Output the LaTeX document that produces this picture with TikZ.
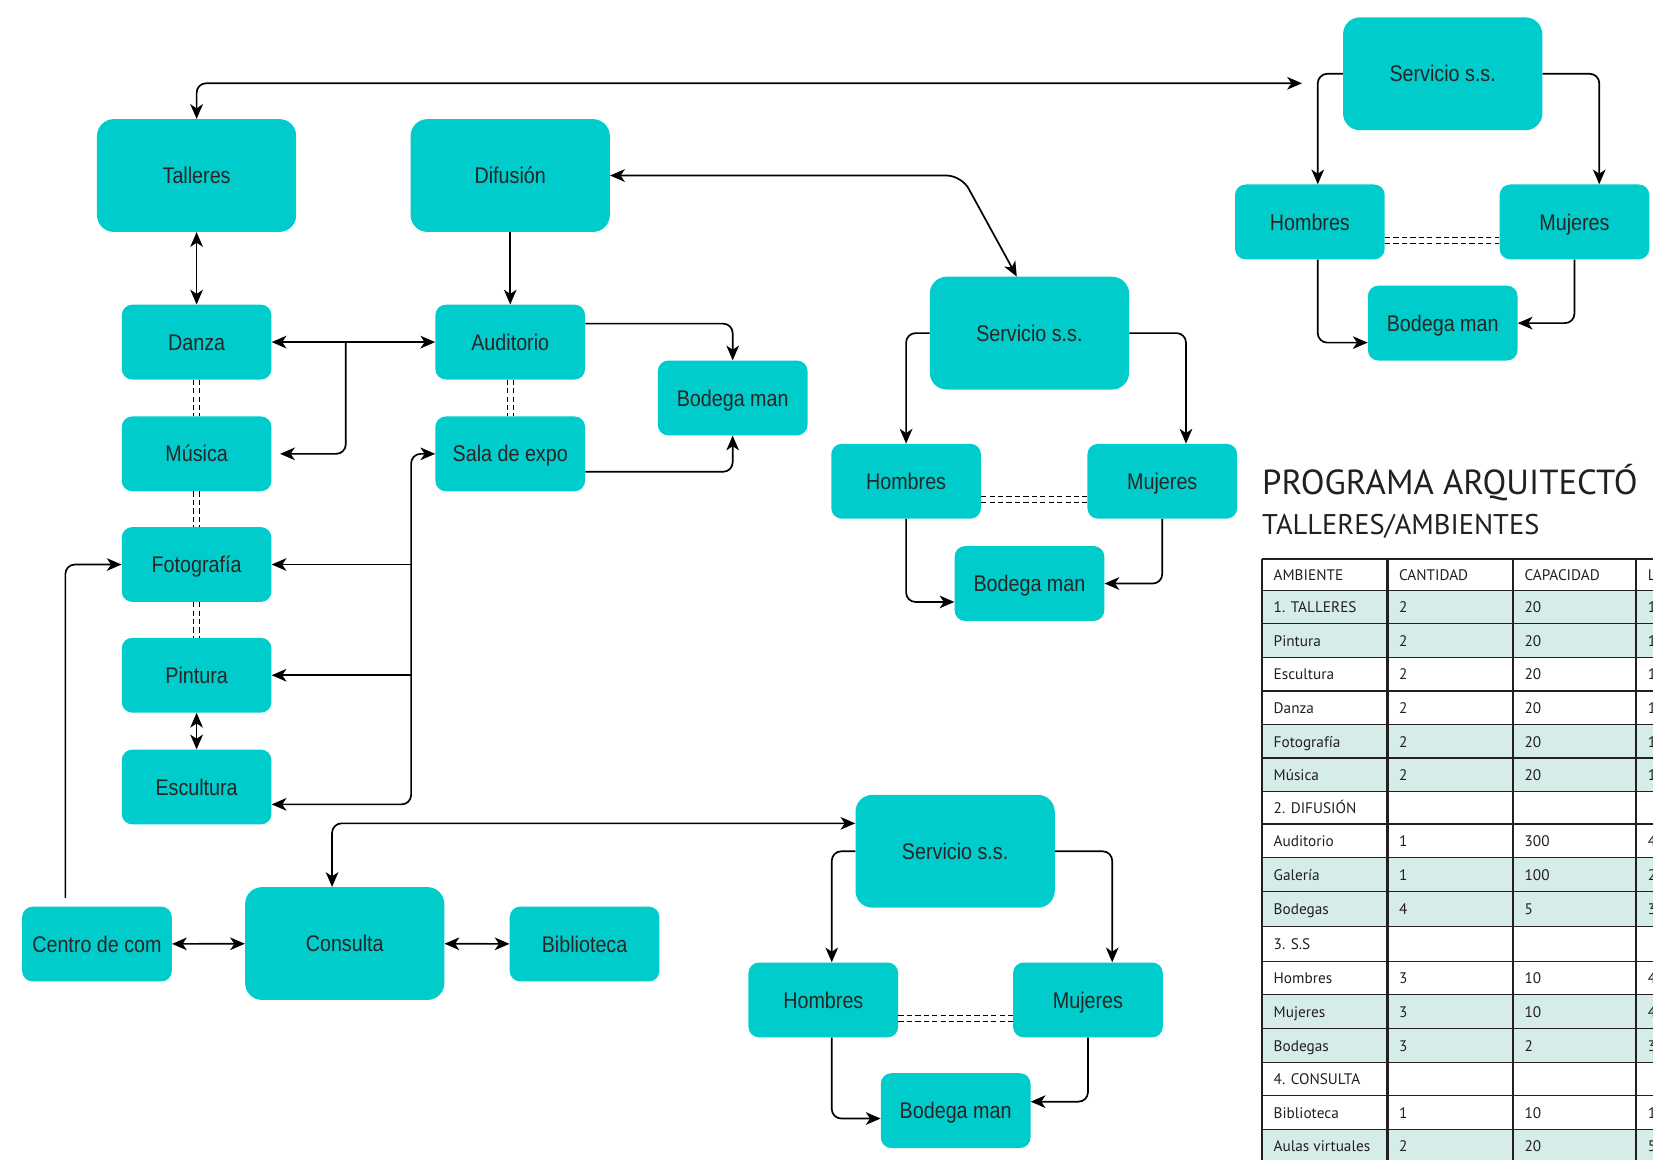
\documentclass[tikz,border=0pt]{standalone}
\usepackage{fontspec}
\setmainfont{Liberation Sans}[FakeStretch=0.87]
\newfontfamily\tabfont{PT Sans}
\usepackage{tikz}
\usetikzlibrary{positioning,arrows.meta}
\definecolor{turquesa}{RGB}{0,204,204}
\definecolor{menta}{RGB}{214,236,232}
\definecolor{borde}{RGB}{35,31,32}

\begin{document}
\begin{tikzpicture}[x=1pt,y=-1pt,
  >={Stealth[length=14pt,width=12pt,inset=4pt]},
  caja/.style={rectangle,fill=turquesa,rounded corners=10pt,minimum width=142pt,minimum height=71pt,
    inner sep=0pt,text height=18pt,text depth=2.6pt,text=black!85,font=\fontsize{21.5}{24}\selectfont},
  cajagrande/.style={caja,minimum width=189pt,minimum height=107pt,rounded corners=16pt},
  flecha/.style={draw,line width=1.6pt,rounded corners=9pt},
  enlace/.style={draw,line width=1.1pt,double,double distance=4.5pt,dash pattern=on 5pt off 3pt},
  celda/.style={anchor=base west,inner sep=0pt,font=\tabfont\fontsize{14.5}{16}\selectfont,text=borde},
  tabla/.style={draw=borde,line width=2.2pt}]
  \useasboundingbox (0,0) rectangle (1568,1100);

  \node[cajagrande] (tal) at (186.5,166.5) {Talleres};
  \node[cajagrande] (dif) at (484,166.5) {Difusión};
  \node[caja] (dan) at (186.5,324.5) {Danza};
  \node[caja] (aud) at (484,324.5) {Auditorio};
  \node[caja] (bod) at (695,377.5) {Bodega man};
  \node[caja] (mus) at (186.5,430.5) {Música};
  \node[caja] (sal) at (484,430.5) {Sala de expo};
  \node[caja] (fot) at (186.5,535.5) {Fotografía};
  \node[caja] (pin) at (186.5,640.5) {Pintura};
  \node[caja] (esc) at (186.5,746.5) {Escultura};
  \node[caja] (cen) at (92,895.5) {Centro de com};
  \node[cajagrande] (con) at (327,895) {Consulta};
  \node[caja] (bib) at (554.5,895.5) {Biblioteca};

  \node[cajagrande] (ssA) at (1368.5,70) {Servicio s.s.};
  \node[caja] (homA) at (1242.5,210.5) {Hombres};
  \node[caja] (mujA) at (1493.5,210.5) {Mujeres};
  \node[caja] (bodA) at (1368.5,306.5) {Bodega man};

  \node[cajagrande] (ssB) at (976.5,316) {Servicio s.s.};
  \node[caja] (homB) at (859.5,456.5) {Hombres};
  \node[caja] (mujB) at (1102.5,456.5) {Mujeres};
  \node[caja] (bodB) at (976.5,553.5) {Bodega man};

  \node[cajagrande] (ssC) at (906,807.5) {Servicio s.s.};
  \node[caja] (homC) at (781,948.5) {Hombres};
  \node[caja] (mujC) at (1032,948.5) {Mujeres};
  \node[caja] (bodC) at (906.5,1053.5) {Bodega man};

  \coordinate (finA) at (1235,79);
  \coordinate (bus) at (390,600);

  \draw[flecha,<->] (tal.north) |- (finA);
  \draw[flecha,<->] (tal) -- (dan);
  \draw[flecha,->] (dif) -- (aud);
  \draw[flecha,<->,rounded corners=14pt] (dif.east) -- (912,166.5) -- ([xshift=-12pt]ssB.north);
  \draw[flecha,<->] (dan) -- (aud);
  \draw[flecha,->] (328,324.5) |- ([xshift=8pt]mus.east);
  \draw[flecha,->] ([yshift=17.5pt]aud.east) -| (bod.north);
  \draw[flecha,->] ([yshift=-17pt]sal.east) -| (bod.south);
  \draw[flecha,<->] (sal.west) -| (bus) |- ([yshift=-16.5pt]esc.east);
  \draw[flecha,->] (fot.east -| bus) -- (fot.east);
  \draw[flecha,->] (pin.east -| bus) -- (pin.east);
  \draw[flecha,<->] (pin) -- (esc);
  \draw[flecha,->] ([xshift=-30pt,yshift=8pt]cen.north) |- (fot.west);
  \draw[flecha,<->] (cen) -- (con);
  \draw[flecha,<->] (con) -- (bib);
  \draw[flecha,<->] ([xshift=-12pt]con.north) |- ([yshift=26.5pt]ssC.west);

  \draw[enlace] (dan.south) -- (mus.north);
  \draw[enlace] (mus.south) -- (fot.north);
  \draw[enlace] (fot.south) -- (pin.north);
  \draw[enlace] (aud.south) -- (sal.north);

  \draw[flecha,->] (ssA.west) -| ([xshift=7.5pt]homA.north);
  \draw[flecha,->] (ssA.east) -| ([xshift=23.5pt]mujA.north);
  \draw[flecha,->] ([xshift=7.5pt]homA.south) |- ([yshift=-18.5pt]bodA.west);
  \draw[flecha,->] (mujA.south) |- (bodA.east);
  \draw[enlace] ([yshift=-17.5pt]homA.east) -- ([yshift=-17.5pt]mujA.west);

  \draw[flecha,->] (ssB.west) -| (homB.north);
  \draw[flecha,->] (ssB.east) -| ([xshift=22.5pt]mujB.north);
  \draw[flecha,->] (homB.south) |- ([yshift=-17.5pt]bodB.west);
  \draw[flecha,->] (mujB.south) |- (bodB.east);
  \draw[enlace] ([yshift=-17.5pt]homB.east) -- ([yshift=-17.5pt]mujB.west);

  \draw[flecha,->] (ssC.west) -| ([xshift=8pt]homC.north);
  \draw[flecha,->] (ssC.east) -| ([xshift=23pt]mujC.north);
  \draw[flecha,->] ([xshift=8pt]homC.south) |- ([yshift=-7.5pt]bodC.west);
  \draw[flecha,->] (mujC.south) |- ([yshift=8.5pt]bodC.east);
  \draw[enlace] ([yshift=-17.5pt]homC.east) -- ([yshift=-17.5pt]mujC.west);

  \node[anchor=base west,inner sep=0pt,font=\tabfont\fontsize{33}{36}\selectfont,text=borde] (titulo) at (1197,469) {PROGRAMA ARQUITECTÓ};
  \node[anchor=base west,inner sep=0pt,font=\tabfont\fontsize{27}{30}\selectfont,text=borde] (subtitulo) at (1197,507) {TALLERES/AMBIENTES};

  \foreach \ya/\yb/\a/\b/\c/\d/\f [count=\i] in {
    530/560.5/AMBIENTE/CANTIDAD/CAPACIDAD/L/white,
    560.5/592/1. TALLERES/2/20/1/menta,
    592/624/Pintura/2/20/1/menta,
    624/656/Escultura/2/20/1/white,
    656/687.7/Danza/2/20/1/white,
    687.7/719.5/Fotografía/2/20/1/menta,
    719.5/751/Música/2/20/1/menta,
    751/782.2/2. DIFUSIÓN/{}/{}/{}/white,
    782.2/814/Auditorio/1/300/4/white,
    814/845.8/Galería/1/100/2/menta,
    845.8/879.3/Bodegas/4/5/3/menta,
    879.3/912.3/3. S.S/{}/{}/{}/white,
    912.3/944.1/Hombres/3/10/4/white,
    944.1/975.9/Mujeres/3/10/4/menta,
    975.9/1008.1/Bodegas/3/2/3/menta,
    1008.1/1039.9/4. CONSULTA/{}/{}/{}/white,
    1039.9/1071.7/Biblioteca/1/10/1/white,
    1071.7/1103.5/Aulas virtuales/2/20/5/menta}
  {
    \fill[\f] (1197,\ya) rectangle (1600,\yb);
    \draw[tabla] (1197,\yb) -- (1600,\yb);
    \node[celda] (ca\i) at (1208,{(\ya+\yb)/2+5}) {\a};
    \node[celda] (cb\i) at (1327,{(\ya+\yb)/2+5}) {\b};
    \node[celda] (cc\i) at (1446,{(\ya+\yb)/2+5}) {\c};
    \node[celda] (cd\i) at (1563,{(\ya+\yb)/2+5}) {\d};
  }
  \draw[tabla] (1197,530) -- (1600,530);
  \foreach \x in {1197,1316,1435,1552}
    \draw[tabla] (\x,530) -- (\x,1103.5);
\end{tikzpicture}
\end{document}
